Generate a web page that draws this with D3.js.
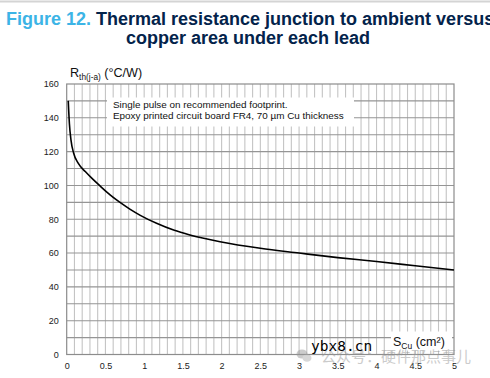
<!DOCTYPE html>
<html><head><meta charset="utf-8">
<script src="https://cdn.jsdelivr.net/npm/d3@7"></script>
<style>body{margin:0;background:#fff}svg{display:block}</style>
</head><body>
<script>
// Data
const areaCm2 = [0.02, 0.035, 0.055, 0.09, 0.15, 0.24, 0.33, 0.43, 0.56, 0.73, 0.82, 0.95, 1.16, 1.38, 1.59, 1.98, 2.5, 3.0, 3.5, 4.0, 4.5, 5.0];
const rthValues = [150, 136.5, 127, 119, 113, 108.2, 104, 99.7, 94.4, 88.6, 85.8, 82.3, 77.6, 73.6, 70.7, 66.7, 62.8, 60, 57.3, 55, 52.5, 50];
const xTickLabels = ["0", "0.5", "1", "1.5", "2", "2.5", "3", "3.5", "4", "4.5", "5"];
const yTickLabels = ["0", "20", "40", "60", "80", "100", "120", "140", "160"];
const noteLines = ["Single pulse on recommended footprint.", "Epoxy printed circuit board FR4, 70 µm Cu thickness"];

const W = 490, H = 378;
const svg = d3.select("body").append("svg").attr("width", W).attr("height", H);
svg.append("rect").attr("width", W).attr("height", H).attr("fill", "#fff");
svg.append("line").attr("x1", 0).attr("x2", W).attr("y1", 1.5).attr("y2", 1.5).attr("stroke", "#d4d4d4").attr("stroke-width", 2);

const font = "Arial, 'Liberation Sans', sans-serif";
// Title
const t1 = svg.append("text").attr("x", 6).attr("y", 25).attr("font-family", font).attr("font-weight", "bold").attr("font-size", 18);
t1.append("tspan").attr("fill", "#3cb4e6").text("Figure 12.");
t1.append("tspan").attr("fill", "#03234b").text(" Thermal resistance junction to ambient versus");
svg.append("text").attr("x", 248).attr("y", 44).attr("text-anchor", "middle").attr("font-family", font).attr("font-weight", "bold").attr("font-size", 18).attr("fill", "#03234b").text("copper area under each lead");

const x = d3.scaleLinear().domain([0, 5]).range([66.7, 454]);
const y = d3.scaleLinear().domain([0, 160]).range([354.5, 84]);

const g = svg.append("g");
// vertical minor grid every 0.1
g.selectAll(".vg").data(d3.range(1, 50).map(i => i / 10)).enter().append("line")
  .attr("x1", d => x(d)).attr("x2", d => x(d)).attr("y1", y(160)).attr("y2", y(0))
  .attr("stroke", "#c4c4c4").attr("stroke-width", 1.1);
// horizontal grid every 10
g.selectAll(".hg").data(d3.range(10, 160, 10)).enter().append("line")
  .attr("x1", x(0)).attr("x2", x(5)).attr("y1", d => y(d)).attr("y2", d => y(d))
  .attr("stroke", "#959595").attr("stroke-width", 1.1);
// frame
g.append("rect").attr("x", x(0)).attr("y", y(160)).attr("width", x(5) - x(0)).attr("height", y(0) - y(160))
  .attr("fill", "none").attr("stroke", "#8c8c8c").attr("stroke-width", 1.2);

// Axes (tick labels only)
const yAxis = d3.axisLeft(y).tickValues(yTickLabels.map(Number)).tickSize(0).tickPadding(8).tickFormat((d, i) => yTickLabels[i]);
const ya = svg.append("g").attr("transform", `translate(${x(0)},0)`).call(yAxis);
ya.select(".domain").remove();
ya.selectAll("text").attr("font-family", font).attr("font-size", 9).attr("fill", "#222");

const xAxis = d3.axisBottom(x).tickValues(xTickLabels.map(Number)).tickSize(0).tickPadding(8).tickFormat((d, i) => xTickLabels[i]);
const xa = svg.append("g").attr("transform", `translate(0,${y(0)})`).call(xAxis);
xa.select(".domain").remove();
xa.selectAll("text").attr("font-family", font).attr("font-size", 9).attr("fill", "#222");

// Note box
svg.append("rect").attr("x", 107).attr("y", 97.5).attr("width", 247).attr("height", 29).attr("fill", "#fff");
noteLines.forEach((s, i) => {
  svg.append("text").attr("x", 113).attr("y", 108.3 + i * 10.8).attr("font-family", font).attr("font-size", 9.9).attr("fill", "#111").text(s);
});

// Curve
const line = d3.line().x((d, i) => x(areaCm2[i])).y(d => y(d)).curve(d3.curveMonotoneX);
svg.append("path").datum(rthValues).attr("d", line).attr("fill", "none").attr("stroke", "#000").attr("stroke-width", 1.6);

// Y axis title
const yt = svg.append("text").attr("x", 70).attr("y", 77).attr("font-family", font).attr("font-size", 12.6).attr("fill", "#111");
yt.append("tspan").text("R");
yt.append("tspan").attr("font-size", 8.3).attr("dy", 3).text("th(j-a)");
yt.append("tspan").attr("dy", -3).text(" (°C/W)");

// X axis title with white box
svg.append("rect").attr("x", 391).attr("y", 331.5).attr("width", 61).attr("height", 19).attr("fill", "#fff");
const xt = svg.append("text").attr("x", 393).attr("y", 346).attr("font-family", font).attr("font-size", 12.5).attr("fill", "#111");
xt.append("tspan").text("S");
xt.append("tspan").attr("font-size", 8.5).attr("dy", 3).text("Cu");
xt.append("tspan").attr("dy", -3).text(" (cm²)");

// Watermarks
const wm = svg.append("g").attr("opacity", 0.5);
wm.append("ellipse").attr("cx", 302).attr("cy", 354).attr("rx", 5.5).attr("ry", 4.5).attr("fill", "#9a9a9a");
wm.append("ellipse").attr("cx", 307).attr("cy", 358).attr("rx", 4.5).attr("ry", 3.8).attr("fill", "#b0b0b0");
wm.append("text").attr("x", 321).attr("y", 362).attr("font-family", "'Noto Sans CJK SC', sans-serif").attr("font-size", 15).attr("fill", "#999").text("公众号：硬件那点事儿");
svg.append("text").attr("x", 311).attr("y", 351).attr("font-family", "'DejaVu Sans Mono', monospace").attr("font-size", 14.5).attr("fill", "#000").text("ybx8.cn");
</script>
</body></html>
